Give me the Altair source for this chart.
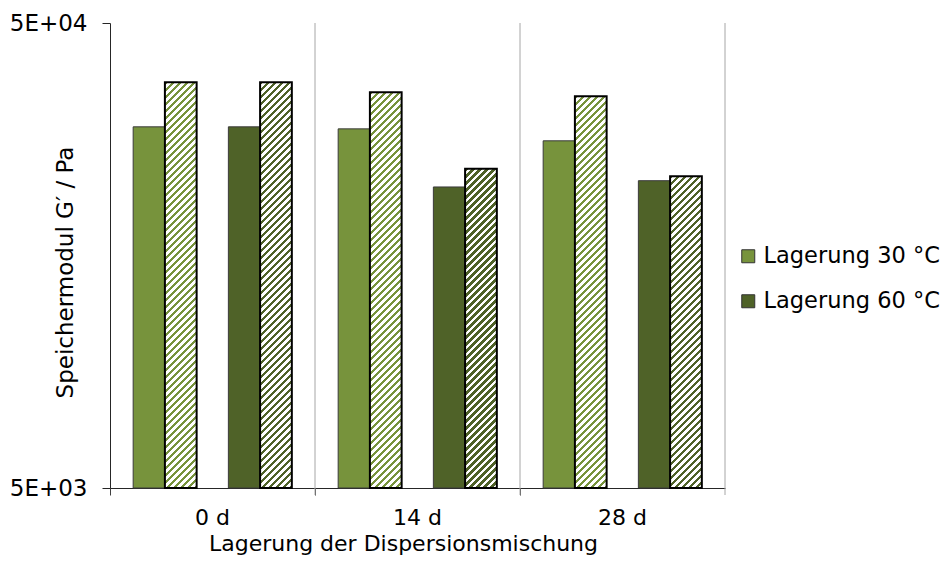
import math
import altair as alt
import pandas as pd

# ---------------- data ----------------
groups = ["0 d", "14 d", "28 d"]
series = ["Lagerung 30 °C", "Lagerung 60 °C"]
solid_30 = [29900, 29600, 27900]
hatched_30 = [37300, 35500, 34800]
solid_60 = [29900, 22200, 22900]
hatched_60 = [37300, 24300, 23400]
y_ticks = [5000, 50000]
y_tick_labels = ["5E+03", "5E+04"]
slot_order = ["30s", "30h", "gap", "60s", "60h"]
colors = ["#77933C", "#4F6228"]

# ---------------- layout / style ----------------
FONT = "DejaVu Sans"
FS = 23
FSX = 22
W, H = 615, 465
Y_MIN, Y_MAX = 5000, 50000
PAD_OUTER = 0.73

rows = []
for i, g in enumerate(groups):
    rows.append(dict(group=g, series=series[0], slot="30s", kind="solid", value=solid_30[i]))
    rows.append(dict(group=g, series=series[0], slot="30h", kind="hatched", value=hatched_30[i]))
    rows.append(dict(group=g, series=series[1], slot="60s", kind="solid", value=solid_60[i]))
    rows.append(dict(group=g, series=series[1], slot="60h", kind="hatched", value=hatched_60[i]))
df = pd.DataFrame(rows)
grid_df = pd.DataFrame({"group": groups})

step = W / len(groups) / (len(slot_order) + 2 * PAD_OUTER)


def hatch(color, value, period=7.0, frac=0.48):
    """Diagonal stripe fill built from a linear gradient (bbox units)."""
    w = step
    h = H * math.log10(value / Y_MIN) / math.log10(Y_MAX / Y_MIN)
    L = w + h
    x2 = L * w / (w * w + h * h)
    y2 = L * h / (w * w + h * h)
    stops = []
    k = 0
    while k * period / L < 1:
        a = k * period / L
        b = min((k + frac) * period / L, 1)
        c = min((k + 1) * period / L, 1)
        stops += [
            {"offset": round(a, 5), "color": color},
            {"offset": round(b, 5), "color": color},
            {"offset": round(b, 5), "color": "white"},
            {"offset": round(c, 5), "color": "white"},
        ]
        k += 1
    return {"gradient": "linear", "x1": 0, "y1": 0, "x2": x2, "y2": y2, "stops": stops}


label_expr = "'" + y_tick_labels[-1] + "'"
for v, l in reversed(list(zip(y_ticks[:-1], y_tick_labels[:-1]))):
    label_expr = f"datum.value == {v} ? '{l}' : " + label_expr

x_axis = alt.Axis(
    title="Lagerung der Dispersionsmischung",
    bandPosition=0,
    labelAngle=0,
    labelFont=FONT, labelFontSize=FSX, labelColor="black",
    labelBaseline="alphabetic", labelPadding=29,
    tickSize=7, tickColor="#404040", domainColor="#262626",
    titleFont=FONT, titleFontSize=FSX, titleFontWeight="normal", titleColor="black",
    titleX=293, titleY=62, titleAlign="center", titleBaseline="alphabetic",
    grid=False,
)
y_axis = alt.Axis(
    title="Speichermodul G′ / Pa",
    values=y_ticks, labelExpr=label_expr, labelFlush=False,
    labelFont=FONT, labelFontSize=FS, labelColor="black", labelPadding=15,
    labelBaseline="middle",
    tickSize=8, tickColor="#262626", domainColor="#262626",
    titleFont=FONT, titleFontSize=FS, titleFontWeight="normal", titleColor="black",
    titleX=-45, titleY=249, titleAngle=270, titleAlign="center", titleBaseline="middle",
    grid=False,
)

x_enc = alt.X("group:N", sort=groups,
              scale=alt.Scale(domain=groups, paddingInner=0, paddingOuter=0),
              axis=x_axis)
xoff = alt.XOffset("slot:N", scale=alt.Scale(domain=slot_order, paddingInner=0, paddingOuter=PAD_OUTER))
y_enc = alt.Y("value:Q", scale=alt.Scale(type="log", domain=[Y_MIN, Y_MAX], nice=False), axis=y_axis)

rules = alt.Chart(grid_df).mark_rule(color="#a6a6a6", strokeWidth=1).encode(
    x=alt.X("group:N", sort=groups, bandPosition=1,
            scale=alt.Scale(domain=groups, paddingInner=0, paddingOuter=0), axis=x_axis),
    y=alt.value(0),
    y2=alt.value(H + 7),
)

solid = alt.Chart(df).transform_filter(alt.datum.kind == "solid").mark_bar(
    stroke="#3a3a3a", strokeWidth=1
).encode(
    x=x_enc, xOffset=xoff, y=y_enc, y2=alt.Y2Datum(Y_MIN),
    color=alt.Color("series:N", scale=alt.Scale(domain=series, range=colors),
                    legend=alt.Legend(title=None, orient="none", legendX=627, legendY=222,
                                      symbolType="square", symbolSize=169,
                                      symbolStrokeColor="#333333", symbolStrokeWidth=1,
                                      labelFont=FONT, labelFontSize=22.5, labelColor="black",
                                      labelLimit=400,
                                      labelOffset=4, rowPadding=22, padding=0)),
)

hatched_layers = []
for _, r in df[df.kind == "hatched"].iterrows():
    col = colors[series.index(r["series"])]
    layer = alt.Chart(df).transform_filter(
        (alt.datum.group == r["group"]) & (alt.datum.slot == r["slot"])
    ).mark_bar(fill=hatch(col, r["value"]), stroke="black", strokeWidth=2).encode(
        x=x_enc, xOffset=xoff, y=y_enc, y2=alt.Y2Datum(Y_MIN),
    )
    hatched_layers.append(layer)

chart = alt.layer(rules, solid, *hatched_layers).properties(
    width=W, height=H,
    autosize=alt.AutoSizeParams(type="none"),
    padding={"left": 102, "top": 15, "right": 216, "bottom": 67},
    background="white",
).configure_view(stroke=None)

chart.save("out.html", embed_options={"renderer": "svg", "actions": False})
